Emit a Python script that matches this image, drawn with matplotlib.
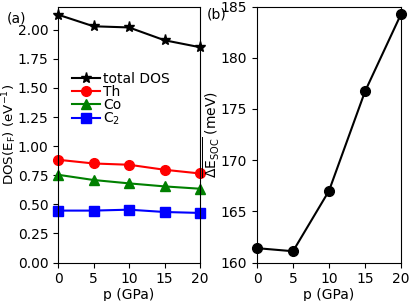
import matplotlib
matplotlib.use("Agg")
import matplotlib.pyplot as plt

p = [0, 5, 10, 15, 20]
total_dos = [2.13, 2.03, 2.02, 1.91, 1.85]
th = [0.883, 0.851, 0.84, 0.797, 0.765]
co = [0.754, 0.709, 0.68, 0.654, 0.634]
c2 = [0.446, 0.446, 0.454, 0.434, 0.426]
esoc = [161.4, 161.1, 167.0, 176.7, 184.25]

plt.rcParams['font.size'] = 10
plt.rcParams['mathtext.default'] = 'regular'
fig = plt.figure(figsize=(4.11, 3.01), dpi=100)
ax1 = fig.add_axes([58/411, 1-262.5/301, 142/411, 256/301])
ax2 = fig.add_axes([257/411, 1-262.5/301, 144/411, 256/301])

ms = 7
ax1.plot(p, total_dos, '-*', color='black', ms=8, label='total DOS')
ax1.plot(p, th, '-o', color='red', ms=ms, label='Th')
ax1.plot(p, co, '-^', color='green', ms=ms, label='Co')
ax1.plot(p, c2, '-s', color='blue', ms=ms, label='C$_2$')
ax1.set_xlim(0, 20)
ax1.set_ylim(0, 2.2)
ax1.set_xticks([0, 5, 10, 15, 20])
ax1.set_yticks([0, 0.25, 0.5, 0.75, 1.0, 1.25, 1.5, 1.75, 2.0])
ax1.set_xlabel('p (GPa)', labelpad=1)
ax1.set_ylabel('DOS(E$_F$) (eV$^{-1}$)', fontsize=9.6)
ax1.yaxis.set_label_coords(-0.275, 0.5)
ax1.legend(loc='upper left', bbox_to_anchor=(0.1, 0.745), frameon=False,
           handlelength=2.0, handletextpad=0.2, borderpad=0.0, labelspacing=-0.08,
           borderaxespad=0)
fig.text(7/411, 1-18/301, '(a)', ha='left', va='center')

ax2.plot(p, esoc, '-o', color='black', ms=ms)
ax2.set_xlim(0, 20)
ax2.set_ylim(160, 185)
ax2.set_xticks([0, 5, 10, 15, 20])
ax2.set_yticks([160, 165, 170, 175, 180, 185])
ax2.set_xlabel('p (GPa)', labelpad=1)
ax2.set_ylabel(r'$\overline{\Delta E_{SOC}}$ (meV)', labelpad=-1)
fig.text(207/411, 1-15/301, '(b)', ha='left', va='center')

for ax in (ax1, ax2):
    for line in ax.lines:
        line.set_clip_on(False)

fig.savefig('out.png', dpi=100)
